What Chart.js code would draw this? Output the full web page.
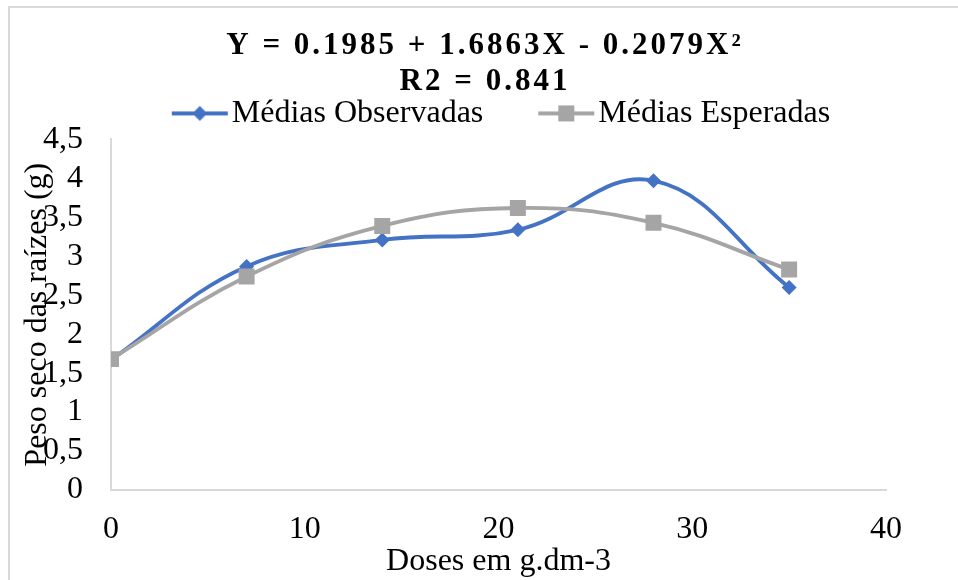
<!DOCTYPE html>
<html lang="pt">
<head>
<meta charset="utf-8">
<title>Peso seco das raízes</title>
<script src="https://cdn.jsdelivr.net/npm/chart.js@4.4.1/dist/chart.umd.min.js"></script>
<style>
  html, body { margin: 0; padding: 0; background: #fff; overflow: hidden; }
  #wrap { position: relative; width: 958px; height: 580px; }
  #frame { position: absolute; left: 8px; top: 6px; width: 990px; height: 600px; border: 2px solid #d9d9d9; pointer-events: none; }
</style>
</head>
<body>
<div id="wrap">
  <canvas id="raizesChart" width="958" height="580"></canvas>
  <div id="frame"></div>
</div>
<script>
// -- dados --
const doses = [0, 7, 14, 21, 28, 35];
const mediasObservadas = [1.67, 2.87, 3.21, 3.34, 3.97, 2.60];
const mediasEsperadas = [1.68, 2.74, 3.39, 3.62, 3.43, 2.83];
const xTicks = [0, 10, 20, 30, 40];
const yTicks = ['0', '0,5', '1', '1,5', '2', '2,5', '3', '3,5', '4', '4,5'];

const SERIF = '"Liberation Serif", "Times New Roman", serif';
const BLUE = '#4472C4';
const GRAY = '#A5A5A5';
const AXIS = '#d9d9d9';

// -- marcador da legenda: linha com o ponto no meio --
function legendMarker(color, shape) {
    const c = document.createElement('canvas');
    c.width = 104;
    c.height = 26;
    const g = c.getContext('2d');
    g.strokeStyle = color;
    g.fillStyle = color;
    g.lineWidth = 4;
    g.beginPath();
    g.moveTo(46, 13);
    g.lineTo(102, 13);
    g.stroke();
    g.beginPath();
    if (shape === 'diamond') {
        g.moveTo(74, 5.5); g.lineTo(81.5, 13); g.lineTo(74, 20.5); g.lineTo(66.5, 13);
    } else {
        g.rect(66, 5, 16, 16);
    }
    g.closePath();
    g.fill();
    return c;
}
const markers = [legendMarker(BLUE, 'diamond'), legendMarker(GRAY, 'square')];

// -- espaçamento entre letras só para o título --
const spacedTitle = {
    id: 'spacedTitle',
    afterInit(chart) {
        const block = chart.titleBlock;
        const draw = block.draw.bind(block);
        block.draw = () => {
            chart.ctx.letterSpacing = '3px';
            draw();
            chart.ctx.letterSpacing = '0px';
        };
    }
};

const toPoints = values => doses.map((x, i) => ({ x, y: values[i] }));

new Chart(document.getElementById('raizesChart').getContext('2d'), {
    type: 'line',
    data: {
        datasets: [
            {
                label: 'Médias Observadas',
                data: toPoints(mediasObservadas),
                borderColor: BLUE,
                backgroundColor: BLUE,
                borderWidth: 3.8,
                pointStyle: 'rectRot',
                pointRadius: 7.5,
                pointHoverRadius: 7.5,
                pointBorderWidth: 0,
                tension: 0.4,
                order: 1
            },
            {
                label: 'Médias Esperadas',
                data: toPoints(mediasEsperadas),
                borderColor: GRAY,
                backgroundColor: GRAY,
                borderWidth: 3.8,
                pointStyle: 'rect',
                pointRadius: 11.3,
                pointHoverRadius: 11.3,
                pointBorderWidth: 0,
                tension: 0.4,
                order: 0
            }
        ]
    },
    plugins: [spacedTitle],
    options: {
        responsive: false,
        animation: false,
        layout: { padding: { top: 8, left: 12, right: 0, bottom: 0 } },
        plugins: {
            title: {
                display: true,
                text: ['Y = 0.1985 + 1.6863X - 0.2079X²', 'R2 = 0.841'],
                color: '#000',
                font: { family: SERIF, size: 31, weight: 'bold', lineHeight: 1.16 },
                padding: { top: 20, bottom: -25.5 }
            },
            legend: {
                display: true,
                labels: {
                    color: '#000',
                    font: { family: SERIF, size: 32 },
                    usePointStyle: true,
                    pointStyleWidth: 76,
                    padding: 23,
                    generateLabels: chart => {
                        const items = Chart.defaults.plugins.legend.labels.generateLabels(chart);
                        items.sort((a, b) => a.datasetIndex - b.datasetIndex);
                        items.forEach(item => { item.pointStyle = markers[item.datasetIndex]; });
                        return items;
                    }
                }
            },
            tooltip: { enabled: false }
        },
        scales: {
            x: {
                type: 'linear',
                min: 0,
                max: 40,
                afterBuildTicks: s => { s.ticks = xTicks.map(v => ({ value: v })); },
                afterFit: s => { s.height = 90; },
                ticks: { color: '#000', font: { family: SERIF, size: 32 }, padding: 20, autoSkip: false },
                grid: { display: false, drawTicks: false },
                border: { display: true, color: AXIS, width: 2 },
                title: {
                    display: true,
                    text: 'Doses em g.dm-3',
                    color: '#000',
                    font: { family: SERIF, size: 32, lineHeight: 1.2 },
                    padding: { top: 0, bottom: -1 }
                }
            },
            y: {
                min: 0,
                max: 4.5,
                afterFit: s => { s.width = 99; },
                ticks: {
                    stepSize: 0.5,
                    autoSkip: false,
                    color: '#000',
                    font: { family: SERIF, size: 32 },
                    padding: 28,
                    callback: (v, i) => yTicks[i]
                },
                grid: { display: false, drawTicks: false },
                border: { display: true, color: AXIS, width: 2 },
                title: {
                    display: true,
                    text: 'Peso seco das raízes (g)',
                    color: '#000',
                    font: { family: SERIF, size: 32, lineHeight: 1.2 },
                    padding: { top: 6, bottom: 0 }
                }
            },
            // -- eixo vazio à direita só para reservar a margem --
            margem: {
                type: 'linear',
                position: 'right',
                afterFit: s => { s.width = 72; },
                ticks: { display: false },
                grid: { display: false, drawTicks: false },
                border: { display: false }
            }
        }
    }
});
</script>
</body>
</html>
